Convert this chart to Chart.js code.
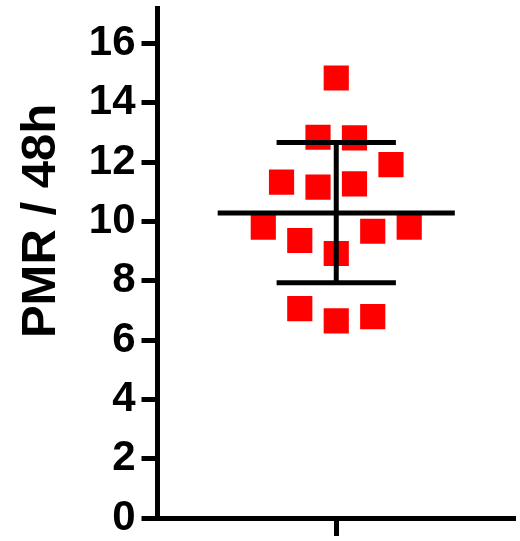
<!DOCTYPE html>
<html>
<head>
<meta charset="utf-8">
<script src="https://cdn.jsdelivr.net/npm/chart.js@4.4.1/dist/chart.umd.min.js"></script>
<style>
html,body{margin:0;padding:0;background:#fff;}
#wrap{width:520px;height:541px;}
</style>
</head>
<body>
<div id="wrap"><canvas id="c" width="520" height="541"></canvas></div>
<script>
// Data
const yTitle = 'PMR / 48h';
const yTicks = [0, 2, 4, 6, 8, 10, 12, 14, 16];
const pmrValues = [14.84, 12.84, 12.82, 11.92, 11.33, 11.16, 11.27, 9.81, 9.36, 8.92, 9.67, 9.81, 7.06, 6.65, 6.79];
const jitterColumns = [0, -1, 1, 3, -3, -1, 1, -4, -2, 0, 2, 4, -2, 0, 2];
const meanValue = 10.29;
const sdUpper = 12.66;
const sdLower = 7.93;

const points = pmrValues.map((v, i) => ({x: jitterColumns[i], y: v}));

const titlePlugin = {
  id: 'yTitle',
  afterDraw(chart) {
    const ctx = chart.ctx;
    ctx.save();
    ctx.translate(55, 221);
    ctx.rotate(-Math.PI / 2);
    ctx.font = 'bold 49px "Liberation Sans", Arial, sans-serif';
    ctx.fillStyle = '#000';
    ctx.textAlign = 'center';
    ctx.textBaseline = 'alphabetic';
    ctx.fillText(yTitle, 0, 0);
    ctx.restore();
  }
};

function noPad(s) {
  s.paddingTop = 0; s.paddingBottom = 0; s.paddingLeft = 0; s.paddingRight = 0;
}

const lineStyle = {type: 'line', borderColor: '#000', borderWidth: 5, pointRadius: 0, fill: false, clip: false, borderCapStyle: 'butt'};

new Chart(document.getElementById('c'), {
  type: 'scatter',
  data: {
    datasets: [
      {label: 'PMR', data: points, pointStyle: 'rect', pointRadius: 17.8, pointHoverRadius: 17.8,
       backgroundColor: '#FF0000', borderWidth: 0, order: 3},
      Object.assign({label: 'Mean', data: [{x: -6.5, y: meanValue}, {x: 6.5, y: meanValue}], order: 1}, lineStyle),
      Object.assign({label: 'SD', data: [{x: 0, y: sdLower}, {x: 0, y: sdUpper}], order: 1}, lineStyle),
      Object.assign({label: 'SD+', data: [{x: -3.27, y: sdUpper}, {x: 3.27, y: sdUpper}], order: 1}, lineStyle),
      Object.assign({label: 'SD-', data: [{x: -3.27, y: sdLower}, {x: 3.27, y: sdLower}], order: 1}, lineStyle)
    ]
  },
  options: {
    responsive: false,
    animation: false,
    layout: {autoPadding: false, padding: {top: 8, right: 5, bottom: 0, left: 0}},
    plugins: {legend: {display: false}, tooltip: {enabled: false}, title: {display: false}},
    scales: {
      x: {
        type: 'linear', min: -9.8, max: 9.8,
        afterBuildTicks(s) { s.ticks = [{value: 0}]; },
        afterFit(s) { s.height = 23; noPad(s); },
        grid: {display: true, drawOnChartArea: false, drawTicks: true, tickLength: 18, tickWidth: 5, tickColor: '#000'},
        border: {display: true, color: '#000', width: 5},
        ticks: {display: false}
      },
      y: {
        type: 'linear', min: 0, max: 17.2,
        afterBuildTicks(s) { s.ticks = yTicks.map(v => ({value: v})); },
        afterFit(s) { s.width = 157.5; noPad(s); },
        grid: {display: true, drawOnChartArea: false, drawTicks: true, tickLength: 16, tickWidth: 5, tickColor: '#000'},
        border: {display: true, color: '#000', width: 5},
        ticks: {color: '#000', padding: 6, font: {family: '"Liberation Sans", Arial, sans-serif', size: 42, weight: 'bold'}}
      }
    }
  },
  plugins: [titlePlugin]
});
</script>
</body>
</html>
